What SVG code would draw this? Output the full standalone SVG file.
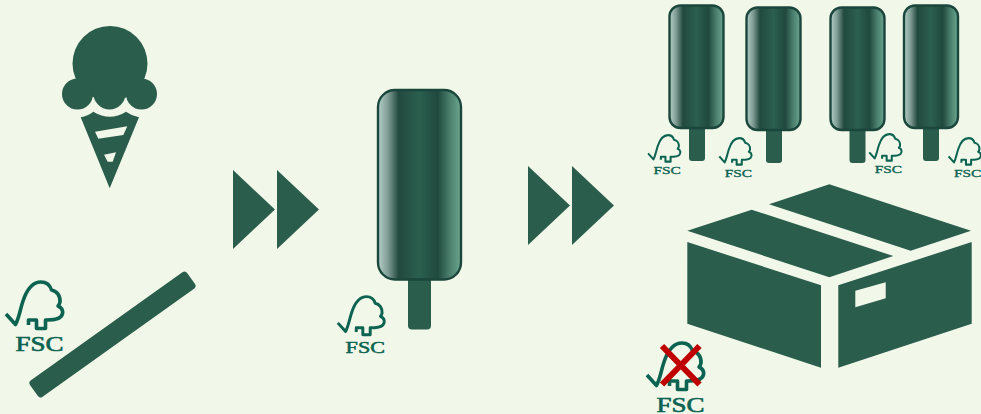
<svg xmlns="http://www.w3.org/2000/svg" width="981" height="414" viewBox="0 0 981 414">
<style>
.g{fill:#2a5d4c}
.body{fill:url(#pop);stroke:#1b463b;stroke-width:2.4}
.logo{fill:none;stroke:#0d6352;stroke-width:3.6;stroke-linejoin:round}
.fsc{font-family:"Liberation Serif","Times New Roman",serif;font-weight:400;font-size:20px;fill:#0d6352;stroke:#0d6352;stroke-width:.6}
.x{stroke:#c00000;stroke-width:6;fill:none}
</style>
<defs>
<linearGradient id="pop" x1="0" y1="0" x2="1" y2="0">
<stop offset="0" stop-color="#b4d0c9"/>
<stop offset=".12" stop-color="#7f9c95"/>
<stop offset=".25" stop-color="#22493e"/>
<stop offset=".5" stop-color="#2b5f4e"/>
<stop offset=".72" stop-color="#20493d"/>
<stop offset=".86" stop-color="#4a7e6c"/>
<stop offset="1" stop-color="#6aa690"/>
</linearGradient>
<path id="mark" class="logo" d="M1,34 L10.500,44.500 C14,38 15,30 18,21 C22,9 28,2 36,2 C41,2 45,5 46.500,10 C52,11 55.500,16 55,22 C54.500,24 54,25 53,26 C58,28 59,33 56,36.500 C53,40 47,40 40.500,40 L40.500,48.500 L31.500,48.500 L31.500,40 L23.500,40 L23.500,45"/>
<polygon id="tri" class="g" points="0,0 42,39.500 0,79"/>
</defs>
<rect width="981" height="414" fill="#f1f8e9"/>
<g id="icecream" class="g">
<circle cx="110" cy="63.500" r="37.500"/>
<circle cx="77.500" cy="94" r="15.500"/>
<circle cx="109.500" cy="93.500" r="16"/>
<circle cx="141.500" cy="94" r="15.500"/>
<path fill-rule="evenodd" d="M80.700,117.300 Q88,116 93.300,111.700 Q110,122 126,111.700 Q132,116 139,117.300 L109.700,188.300 Z M95,131.700 L127.300,126.300 L123.300,135 L98.300,138.700 Z M104,154.700 L116,152.300 L112.700,161.700 L107.700,161.700 Z"/>
</g>
<g id="stick"><rect class="g" x="16" y="324.500" width="193" height="20" rx="3.500" transform="rotate(-35.500 112.500 334.500)"/></g>
<g id="fsc-stick" transform="translate(5 280)"><use href="#mark"/><text class="fsc" x="10.500" y="70.500" textLength="48" lengthAdjust="spacingAndGlyphs">FSC</text></g>
<g id="connectors">
<use href="#tri" x="233" y="170"/>
<use href="#tri" x="277" y="170"/>
<use href="#tri" x="528" y="166"/>
<use href="#tri" x="572" y="166"/>
</g>
<g id="popsicle">
<rect class="g" x="408" y="270" width="23" height="59.500" rx="4"/>
<rect class="body" x="378" y="90" width="83" height="189.500" rx="17"/>
</g>
<g id="fsc-popsicle" transform="translate(337 295) scale(.82)"><use href="#mark"/><text class="fsc" x="10.500" y="70.500" textLength="48" lengthAdjust="spacingAndGlyphs">FSC</text></g>
<g id="pop1"><rect class="g" x="689" y="120" width="16" height="41" rx="3"/><rect class="body" x="669.500" y="5.500" width="54" height="122.500" rx="11"/></g>
<g id="pop2"><rect class="g" x="766" y="122" width="16" height="41" rx="3"/><rect class="body" x="746.500" y="7.500" width="54" height="122.500" rx="11"/></g>
<g id="pop3"><rect class="g" x="849.500" y="122" width="16" height="41" rx="3"/><rect class="body" x="830.500" y="7.500" width="54" height="122.500" rx="11"/></g>
<g id="pop4"><rect class="g" x="923" y="120" width="16" height="41" rx="3"/><rect class="body" x="904" y="5.500" width="54" height="122.500" rx="11"/></g>
<g id="fsc1" transform="translate(647.500 134) scale(.57)"><use href="#mark"/><text class="fsc" x="10.500" y="70.500" textLength="48" lengthAdjust="spacingAndGlyphs">FSC</text></g>
<g id="fsc2" transform="translate(718.700 137) scale(.57)"><use href="#mark"/><text class="fsc" x="10.500" y="70.500" textLength="48" lengthAdjust="spacingAndGlyphs">FSC</text></g>
<g id="fsc3" transform="translate(868.700 133) scale(.57)"><use href="#mark"/><text class="fsc" x="10.500" y="70.500" textLength="48" lengthAdjust="spacingAndGlyphs">FSC</text></g>
<g id="fsc4" transform="translate(948 137) scale(.57)"><use href="#mark"/><text class="fsc" x="10.500" y="70.500" textLength="48" lengthAdjust="spacingAndGlyphs">FSC</text></g>
<g id="box" class="g">
<polygon points="829.300,184.300 971,230.700 910.700,250.700 769,204.300"/>
<polygon points="751.700,209.700 893.300,256 829.300,277.300 687.300,230.700"/>
<polygon points="687.300,242 821,285.300 821,367.700 687.300,323.700"/>
<path fill-rule="evenodd" d="M838.300,285.300 L971.700,242 L971.700,323.700 L838.300,367.700 Z M855.300,290.700 L885.700,282.300 L885.700,298.300 L855.300,307.300 Z"/>
</g>
<g id="fsc-crossed">
<g transform="translate(646 341)"><use href="#mark"/><text class="fsc" x="10.500" y="70.500" textLength="48" lengthAdjust="spacingAndGlyphs">FSC</text></g>
<path class="x" d="M662,346 L699.500,384.500 M699.500,346 L662,384.500"/>
</g>
</svg>
